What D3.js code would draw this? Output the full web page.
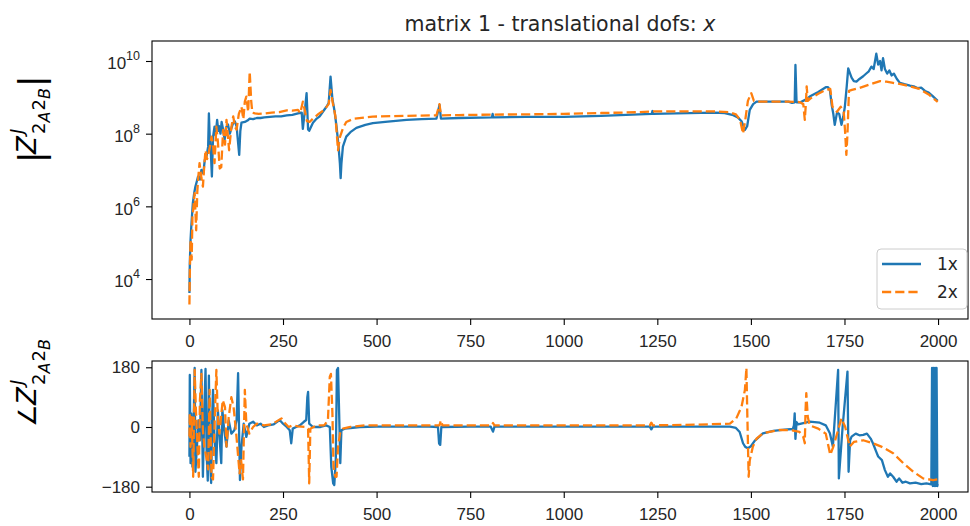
<!DOCTYPE html>
<html>
<head>
<meta charset="utf-8">
<script src="https://cdn.jsdelivr.net/npm/d3@7"></script>
<style>
  body { margin: 0; background: #fff; }
  svg { font-family: "DejaVu Sans", sans-serif; }
</style>
</head>
<body>
<div id="chart"></div>
<script>
// tick values
const xTicks = [0, 250, 500, 750, 1000, 1250, 1500, 1750, 2000];
const magTicks = [1e4, 1e6, 1e8, 1e10];
const phaseTicks = [-180, 0, 180];
const seriesNames = ["1x", "2x"];

// |Z| for 1x, [frequency, magnitude]
const mag1x = [
  [0, 4.1e3], [1, 2.7e4], [3, 1.2e5], [5, 2.8e5], [9, 1.2e6], [13, 2.4e6], [16, 3.5e6],
  [20, 5e6], [23, 6.6e6], [28, 5.5e6], [32, 1.0e7], [37, 8e6], [41, 1.9e7], [46, 2.5e7],
  [50, 4.4e7], [52, 3.6e8], [54, 9e7], [56, 6e7], [60, 6.6e6], [63, 8e7], [67, 1.55e8],
  [70, 9e7], [74, 2.4e8], [77, 1.2e8], [79, 1.6e8], [83, 1.0e8], [86, 2.1e8], [90, 1.3e8],
  [94, 6.8e7], [98, 1.5e8], [103, 1.8e8], [108, 1.0e8], [112, 1.4e8], [117, 2.0e8],
  [121, 2.2e8], [126, 1.6e8], [133, 2.6e7], [136, 1.2e8], [139, 2.0e8], [148, 2.1e8],
  [155, 2.3e8], [161, 2.6e8], [170, 2.5e8], [180, 2.7e8], [190, 2.7e8], [200, 2.8e8],
  [215, 2.9e8], [230, 3.0e8], [245, 3.0e8], [260, 3.2e8], [275, 3.3e8], [290, 3.6e8],
  [300, 3.8e8], [303, 1.35e8], [308, 4e8], [313, 1.3e9], [317, 1.3e8], [320, 1.2e8],
  [330, 2.0e8], [340, 2.6e8], [348, 3.0e8], [358, 4.2e8], [366, 5.5e8], [372, 7e8],
  [377, 3.7e9], [382, 9e8], [388, 4e8], [393, 1.55e8], [398, 5e7], [402, 1.5e7],
  [404, 6e6], [406, 1.5e7], [410, 4.4e7], [419, 8.3e7], [430, 1.1e8], [446, 1.45e8],
  [470, 1.75e8], [490, 1.95e8], [530, 2.15e8], [580, 2.4e8], [620, 2.5e8], [660, 2.6e8],
  [668, 6.2e8], [672, 2.6e8], [720, 2.7e8], [808, 2.8e8], [810, 3.5e8], [812, 2.8e8],
  [900, 2.9e8], [1000, 2.9e8], [1100, 3.1e8], [1200, 3.4e8], [1235, 3.5e8], [1237, 4.2e8],
  [1239, 3.5e8], [1300, 3.6e8], [1400, 3.8e8], [1430, 3.7e8], [1450, 3.3e8], [1465, 2.8e8],
  [1475, 2.2e8], [1484, 1.26e8], [1490, 1.6e8], [1497, 4.5e8], [1506, 6.5e8], [1515, 7.6e8],
  [1550, 7.6e8], [1600, 7.6e8], [1610, 7.0e8], [1617, 7.3e8], [1619, 7.8e9], [1622, 7.3e8],
  [1632, 7.3e8], [1645, 8.5e8], [1657, 1.05e9], [1680, 1.4e9], [1700, 1.9e9], [1706, 1.9e9],
  [1711, 1.6e9], [1716, 6e8], [1720, 3.6e8], [1724, 1.75e8], [1730, 3.8e8], [1736, 3.5e8],
  [1742, 1.75e8], [1747, 3e8], [1751, 5.5e8], [1756, 2e9], [1760, 6.3e9], [1765, 4.5e9],
  [1769, 3.5e9], [1775, 2.8e9], [1782, 2.7e9], [1790, 3.2e9], [1800, 3.8e9], [1809, 4.6e9],
  [1815, 5.2e9], [1822, 7e9], [1828, 6e9], [1835, 1.6e10], [1840, 8e9], [1845, 1.0e10],
  [1849, 5.5e9], [1853, 1.2e10], [1858, 6e9], [1864, 4.5e9], [1870, 5.5e9], [1876, 4e9],
  [1882, 4.5e9], [1890, 3.2e9], [1898, 2.5e9], [1910, 2.3e9], [1925, 2.1e9], [1935, 2.0e9],
  [1945, 1.8e9], [1955, 1.85e9], [1965, 1.5e9], [1975, 1.35e9], [1985, 1.1e9], [1999, 8e8]
];

// |Z| for 2x
const mag2x = [
  [0, 2.0e3], [1, 1.4e4], [3, 1.2e5], [6, 3.4e4], [8, 5e5], [10, 8e5], [14, 2.3e6],
  [18, 2.2e5], [21, 2.5e6], [23, 5.4e6], [27, 1.55e7], [32, 6e6], [36, 3.5e6], [40, 1.5e7],
  [43, 3.5e7], [47, 2.0e7], [50, 2.5e7], [55, 4.5e7], [59, 8.3e7], [63, 5e7], [67, 1.55e7],
  [72, 1.55e8], [76, 6e7], [81, 1.1e7], [85, 1.2e7], [90, 1.26e8], [95, 5e7], [99, 2.4e8],
  [106, 3.5e7], [112, 1.5e8], [117, 3.0e8], [122, 1.5e8], [126, 1.3e8], [132, 3.5e8],
  [139, 5.5e8], [144, 2.5e8], [148, 7.6e8], [152, 1.05e9], [157, 4e8], [161, 5.1e9],
  [165, 8e8], [168, 3.8e8], [175, 3.6e8], [185, 3.5e8], [200, 3.6e8], [220, 3.8e8],
  [240, 3.9e8], [260, 4.4e8], [275, 4.3e8], [290, 4.5e8], [296, 3.7e8], [303, 7.6e8],
  [308, 4.5e8], [314, 2.2e8], [321, 2.1e8], [330, 2.6e8], [345, 3.5e8], [360, 4.5e8],
  [372, 6.5e8], [377, 1.6e9], [383, 7e8], [390, 3e8], [397, 3.5e7], [402, 8e7],
  [410, 1.4e8], [419, 2.1e8], [440, 2.6e8], [490, 2.95e8], [580, 3.1e8], [660, 3.2e8],
  [668, 6.5e8], [672, 3.2e8], [720, 3.25e8], [810, 3.35e8], [900, 3.4e8], [1000, 3.5e8],
  [1100, 3.7e8], [1200, 3.9e8], [1237, 4.1e8], [1300, 4.1e8], [1400, 4.1e8], [1440, 3.9e8],
  [1460, 3.4e8], [1471, 2.4e8], [1479, 1.0e8], [1485, 2.4e8], [1492, 8e8], [1501, 1.3e9],
  [1508, 8e8], [1515, 7.6e8], [1600, 7.6e8], [1630, 7.4e8], [1640, 6.5e8], [1644, 2.4e8],
  [1647, 7e8], [1649, 2.0e9], [1652, 8e8], [1660, 9.5e8], [1680, 1.25e9], [1700, 1.6e9],
  [1712, 1.7e9], [1718, 5.5e8], [1730, 4e8], [1740, 5.5e8], [1748, 4e8], [1752, 1.0e8],
  [1755, 2.6e7], [1758, 1e8], [1762, 1.5e9], [1770, 1.6e9], [1790, 1.8e9], [1820, 2.3e9],
  [1845, 2.8e9], [1862, 2.7e9], [1880, 2.5e9], [1900, 2.3e9], [1925, 2.0e9], [1950, 1.7e9],
  [1975, 1.2e9], [1999, 7.5e8]
];

// phase in degrees, 1x
const phase1x = [
  [0, -90], [1, 157], [3, -109], [5, 40], [8, -120], [12, 60], [14, 178], [16, -135],
  [20, -60], [24, 20], [28, -40], [32, 172], [36, -150], [40, 60], [43, 175], [46, -80],
  [49, -162], [52, 155], [55, -100], [58, -169], [61, 40], [63, 112], [67, -40], [72, -109],
  [76, 50], [80, -20], [85, -109], [88, 51], [93, -10], [99, -59], [105, 20], [112, -20],
  [120, -10], [126, 20], [130, 162], [135, -160], [139, -60], [145, 10], [152, -30],
  [160, 10], [170, 16], [180, 5], [190, 10], [199, 0], [210, 5], [225, 8], [241, 21],
  [250, 10], [260, 0], [268, -10], [272, -49], [276, -5], [285, 0], [295, 5], [305, 15],
  [312, 21], [315, 90], [317, 106], [320, 10], [330, 0], [350, 0], [365, 5], [375, 0],
  [379, -120], [384, -170], [387, -175], [391, -100], [394, 172], [397, 178], [400, 40],
  [403, -109], [406, -10], [415, -5], [430, -3], [455, 0], [500, 1], [560, 1], [640, 1],
  [664, 0], [667, -50], [670, -54], [673, 0], [750, 1], [805, 1], [811, -14], [815, 1],
  [900, 1], [1000, 1], [1100, 1], [1230, 1], [1234, -7], [1238, 1], [1350, 1], [1444, 1],
  [1460, -3], [1470, -15], [1479, -49], [1485, -60], [1492, -64], [1500, -58], [1510, -42],
  [1532, -19], [1560, -12], [1590, -8], [1612, -6], [1615, 5], [1617, 41], [1619, -36],
  [1622, 15], [1626, 8], [1640, 12], [1657, 16], [1684, 13], [1700, 5], [1711, -19],
  [1719, -59], [1733, 172], [1735, -155], [1745, 0], [1758, 167], [1761, -135], [1765, -40],
  [1769, -29], [1780, -20], [1790, -25], [1800, -24], [1810, -20], [1820, -35], [1826, -49],
  [1835, -75], [1840, -89], [1850, -100], [1858, -130], [1866, -150], [1872, -140],
  [1880, -150], [1889, -165], [1896, -155], [1905, -168], [1914, -165], [1925, -170],
  [1940, -168], [1955, -172], [1969, -170], [1982, -173], [1984, 178], [1986, -178],
  [1988, 178], [1990, -178], [1992, 178], [1994, -178], [1996, 178], [1998, -178], [1999, -172]
];

// phase in degrees, 2x
const phase2x = [
  [0, -29], [1, 42], [3, -60], [6, 30], [10, -150], [14, 172], [17, 60], [20, -20],
  [25, -150], [28, 80], [32, 160], [36, -10], [40, -60], [45, -90], [50, -128], [54, 112],
  [59, -150], [63, -158], [68, 40], [72, 172], [76, 20], [80, -20], [89, 81], [95, 60],
  [99, -59], [105, 30], [112, 90], [118, 60], [125, -20], [134, -140], [138, -100],
  [143, -158], [148, 112], [152, 10], [160, -20], [170, 0], [180, 10], [199, 5], [220, 8],
  [246, 26], [255, 12], [265, 0], [276, 5], [290, 2], [310, 0], [317, -5], [320, -170],
  [323, -5], [340, 5], [360, 5], [370, 20], [375, 152], [378, 160], [382, 40], [385, -120],
  [390, -150], [393, -150], [397, -60], [403, -15], [410, -5], [430, 0], [470, 5], [520, 5],
  [600, 5], [668, 5], [672, 20], [676, 5], [750, 5], [807, 5], [811, 12], [815, 5],
  [1000, 5], [1100, 5], [1230, 5], [1234, 13], [1238, 5], [1350, 7], [1444, 10], [1461, 26],
  [1475, 61], [1484, 112], [1488, 178], [1490, 60], [1494, -150], [1497, -100], [1505, -60],
  [1515, -35], [1532, -19], [1577, -9], [1610, -10], [1630, -15], [1640, -30], [1644, -49],
  [1646, 50], [1648, 102], [1652, 30], [1657, 5], [1680, -5], [1700, -20], [1712, -84],
  [1720, -60], [1742, 26], [1752, 0], [1764, -59], [1775, -45], [1800, -40], [1826, -49],
  [1850, -60], [1880, -79], [1907, -109], [1934, -135], [1960, -155], [1987, -160], [1999, -158]
];

const colors = ["#1f77b4", "#ff7f0e"];
const dash = "9.2,4";
const lw = 2.3;

const width = 970, height = 526;
const left = 152, right = 968;
const top1 = 41, bottom1 = 319;
const top2 = 361, bottom2 = 492;

const svg = d3.select("#chart").append("svg")
    .attr("width", width)
    .attr("height", height);

let x = d3.scaleLinear().domain([-100, 2080]).range([left, right]);
let yMag = d3.scaleLog().domain([794, 3.55e10]).range([bottom1, top1]);
let yPh = d3.scaleLinear().domain([-196, 199]).range([bottom2, top2]);

// clip regions
const defs = svg.append("defs");
defs.append("clipPath").attr("id", "clip1").append("rect")
    .attr("x", left).attr("y", top1).attr("width", right - left).attr("height", bottom1 - top1);
defs.append("clipPath").attr("id", "clip2").append("rect")
    .attr("x", left).attr("y", top2).attr("width", right - left).attr("height", bottom2 - top2);

function styleAxis(g) {
    g.select(".domain").remove();
    g.selectAll(".tick line").attr("stroke", "#000").attr("stroke-width", 1.1);
    g.selectAll(".tick text").attr("fill", "#262626").style("font-size", "17px");
}

function panel(yScale, yTop, yBottom, data, clipId, yTickVals, logY) {
    let line = d3.line().x(d => x(d[0])).y(d => yScale(d[1]));
    let plot = svg.append("g").attr("clip-path", "url(#" + clipId + ")");
    data.forEach((series, i) => {
        plot.append("path")
            .datum(series)
            .attr("fill", "none")
            .attr("stroke", colors[i])
            .attr("stroke-width", lw)
            .attr("stroke-linejoin", "round")
            .attr("stroke-dasharray", i === 1 ? dash : null)
            .attr("d", line);
    });

    let xa = svg.append("g")
        .attr("transform", "translate(0," + yBottom + ")")
        .call(d3.axisBottom(x).tickValues(xTicks).tickSize(6).tickFormat(d3.format("d")));
    styleAxis(xa);
    xa.selectAll(".tick text").attr("y", 28).attr("dy", 0);

    let ya = svg.append("g")
        .attr("transform", "translate(" + left + ",0)")
        .call(d3.axisLeft(yScale).tickValues(yTickVals).tickSize(6).tickPadding(6)
            .tickFormat(logY ? () => "" : d3.format("d")));
    styleAxis(ya);
    if (logY) {
        ya.selectAll(".tick text").each(function (d) {
            let t = d3.select(this);
            t.attr("dy", "0.45em");
            t.append("tspan").style("font-size", "17px").text("10");
            t.append("tspan").attr("dy", "-9").style("font-size", "12.5px")
                .text(Math.round(Math.log10(d)));
        });
    } else {
        ya.selectAll(".tick text").text(d => d < 0 ? "\u2212" + (-d) : d);
    }

    svg.append("rect")
        .attr("x", left).attr("y", yTop)
        .attr("width", right - left).attr("height", yBottom - yTop)
        .attr("fill", "none").attr("stroke", "#000").attr("stroke-width", 1.1);
}

panel(yMag, top1, bottom1, [mag1x, mag2x], "clip1", magTicks, true);
panel(yPh, top2, bottom2, [phase1x, phase2x], "clip2", phaseTicks, false);

// title
let title = svg.append("text")
    .attr("x", (left + right) / 2).attr("y", 31)
    .attr("text-anchor", "middle")
    .attr("fill", "#262626")
    .style("font-size", "20.5px")
    .text("matrix 1 - translational dofs: ");
title.append("tspan").style("font-style", "italic").text("x");

// y labels with Z^J_{2_A 2_B}
function zLabel(tx, ty, prefix, suffix) {
    let g = svg.append("g").attr("transform", "translate(" + tx + "," + ty + ") rotate(-90)")
        .attr("fill", "#000");
    let pos = 0;
    if (prefix === "|") {
        g.append("text").attr("x", -5).attr("y", 7).style("font-size", "34px").text("|");
        pos = 4;
    } else {
        g.append("text").attr("x", 0).attr("y", 0).style("font-size", "25px").text(prefix);
        pos = 22;
    }
    g.append("text").attr("x", pos).attr("y", 0).style("font-size", "26px")
        .style("font-style", "italic").text("Z");
    g.append("text").attr("x", pos + 20).attr("y", -13).style("font-size", "18px")
        .style("font-style", "italic").text("J");
    let s = pos + 20;
    g.append("text").attr("x", s).attr("y", 9).style("font-size", "18px").text("2");
    g.append("text").attr("x", s + 11.5).attr("y", 14).style("font-size", "16px")
        .style("font-style", "italic").text("A");
    g.append("text").attr("x", s + 23.5).attr("y", 9).style("font-size", "18px").text("2");
    g.append("text").attr("x", s + 35).attr("y", 14).style("font-size", "16px")
        .style("font-style", "italic").text("B");
    if (suffix) {
        g.append("text").attr("x", s + 47).attr("y", 7).style("font-size", "34px").text(suffix);
    }
}
zLabel(36, 158, "|", "|");
zLabel(36, 427, "\u2220", null);

// legend
let legend = svg.append("g").attr("transform", "translate(877,249)");
legend.append("rect")
    .attr("width", 90).attr("height", 60).attr("rx", 4)
    .attr("fill", "#fff").attr("fill-opacity", 0.8)
    .attr("stroke", "#cccccc").attr("stroke-width", 1);
seriesNames.forEach((name, i) => {
    let yy = 15 + i * 28;
    legend.append("line")
        .attr("x1", 5).attr("x2", 44).attr("y1", yy).attr("y2", yy)
        .attr("stroke", colors[i]).attr("stroke-width", lw)
        .attr("stroke-dasharray", i === 1 ? dash : null);
    legend.append("text")
        .attr("x", 60).attr("y", yy + 6)
        .attr("fill", "#262626")
        .style("font-size", "17px")
        .text(name);
});
</script>
</body>
</html>
